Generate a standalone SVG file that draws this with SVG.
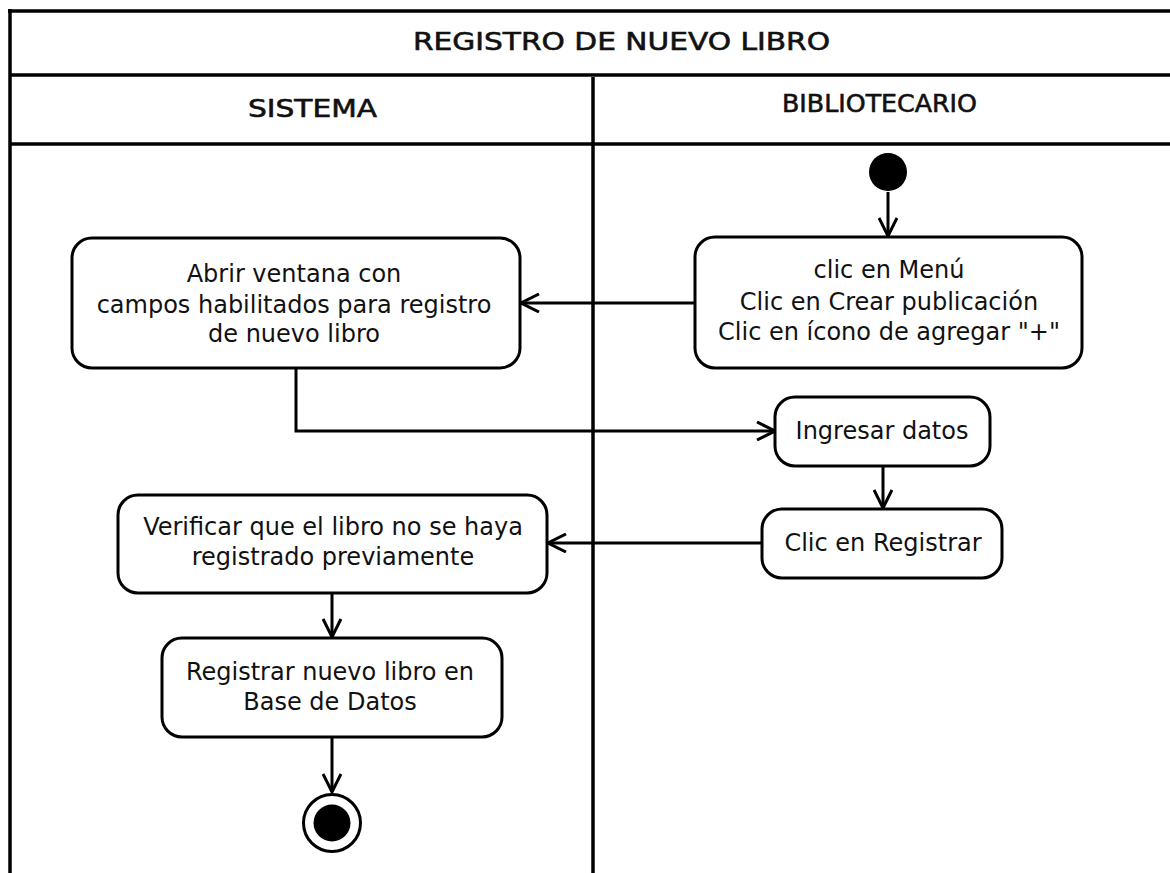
<svg xmlns="http://www.w3.org/2000/svg" width="1170" height="873" viewBox="0 0 1170 873">
<style>
.frame{stroke:#000;stroke-width:3.5;fill:none}
.node{fill:#fff;stroke:#000;stroke-width:3}
.t{font-family:"DejaVu Sans","Liberation Sans",sans-serif;font-size:24px;fill:#111;text-anchor:middle}
.h{font-family:"DejaVu Sans","Liberation Sans",sans-serif;font-size:24px;font-weight:normal;fill:#111;stroke:#111;stroke-width:0.6}
.c{stroke:#000;stroke-width:3;fill:none;marker-end:url(#arr)}
</style>
<defs>
<marker id="arr" viewBox="0 0 20 20" refX="19" refY="10" markerWidth="20" markerHeight="20" markerUnits="userSpaceOnUse" orient="auto">
<path d="M1,1 L19,10 L1,19" fill="none" stroke="#000" stroke-width="3"/>
</marker>
</defs>
<rect width="1170" height="873" fill="#fff"/>
<g id="frame">
<line class="frame" x1="8" y1="11" x2="1170" y2="11"/>
<line class="frame" x1="10" y1="9" x2="10" y2="873"/>
<line class="frame" x1="10" y1="75" x2="1170" y2="75"/>
<line class="frame" x1="10" y1="144" x2="1170" y2="144"/>
<line class="frame" x1="593" y1="77" x2="593" y2="873"/>
<text class="h" x="413" y="50" style="font-size:25px" textLength="417" lengthAdjust="spacingAndGlyphs">REGISTRO DE NUEVO LIBRO</text>
<text class="h" x="248" y="117" textLength="129" lengthAdjust="spacingAndGlyphs">SISTEMA</text>
<text class="h" x="782" y="112" textLength="195" lengthAdjust="spacingAndGlyphs">BIBLIOTECARIO</text>
</g>
<g id="connectors">
<path class="c" d="M888,192 L888,236"/>
<path class="c" d="M695,303 L521,303"/>
<path class="c" d="M296,368 L296,431 L775,431"/>
<path class="c" d="M883,466 L883,508"/>
<path class="c" d="M762,543 L548,543"/>
<path class="c" d="M332,593 L332,637"/>
<path class="c" d="M332,737 L332,792"/>
</g>
<g id="start"><circle cx="888" cy="172" r="19" fill="#000"/></g>
<g id="n_menu">
<rect class="node" x="695" y="237" width="387" height="131" rx="20"/>
<text class="t" x="889" y="278">clic en Menú</text>
<text class="t" x="889" y="310">Clic en Crear publicación</text>
<text class="t" x="889" y="340">Clic en ícono de agregar "+"</text>
</g>
<g id="n_abrir">
<rect class="node" x="72" y="238" width="448" height="130" rx="20"/>
<text class="t" x="294" y="282">Abrir ventana con</text>
<text class="t" x="294" y="313">campos habilitados para registro</text>
<text class="t" x="294" y="342">de nuevo libro</text>
</g>
<g id="n_ingresar">
<rect class="node" x="775" y="397" width="215" height="69" rx="20"/>
<text class="t" x="882" y="439">Ingresar datos</text>
</g>
<g id="n_clicreg">
<rect class="node" x="762" y="509" width="240" height="69" rx="20"/>
<text class="t" x="883" y="551">Clic en Registrar</text>
</g>
<g id="n_verificar">
<rect class="node" x="118" y="495" width="429" height="98" rx="20"/>
<text class="t" x="333" y="535">Verificar que el libro no se haya</text>
<text class="t" x="333" y="565">registrado previamente</text>
</g>
<g id="n_registrar">
<rect class="node" x="162" y="638" width="340" height="99" rx="20"/>
<text class="t" x="330" y="680">Registrar nuevo libro en</text>
<text class="t" x="330" y="710">Base de Datos</text>
</g>
<g id="end">
<circle cx="332" cy="823" r="28.5" fill="#fff" stroke="#000" stroke-width="3"/>
<circle cx="332" cy="823" r="18.5" fill="#000"/>
</g>
</svg>
